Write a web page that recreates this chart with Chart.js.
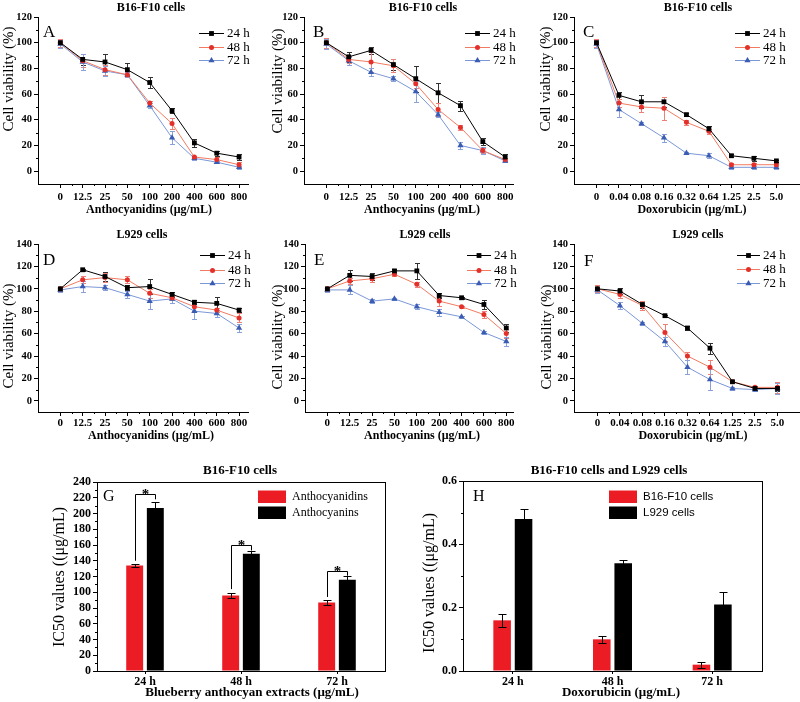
<!DOCTYPE html>
<html>
<head>
<meta charset="utf-8">
<title>Cell viability and IC50 values</title>
<script src="https://cdn.jsdelivr.net/npm/chart.js@4.4.1/dist/chart.umd.min.js"></script>
<style>
  html, body { margin: 0; padding: 0; background: #fff; }
  #figure { position: relative; width: 800px; height: 702px; overflow: hidden; background: #fff; }
  #figure canvas { position: absolute; }
</style>
</head>
<body>
<div id="figure">
  <canvas id="panelA" width="265" height="220" style="left:0;top:0"></canvas>
  <canvas id="panelB" width="265" height="220" style="left:265px;top:0"></canvas>
  <canvas id="panelC" width="280" height="220" style="left:530px;top:0"></canvas>
  <canvas id="panelD" width="265" height="230" style="left:0;top:220px"></canvas>
  <canvas id="panelE" width="265" height="230" style="left:265px;top:220px"></canvas>
  <canvas id="panelF" width="280" height="230" style="left:530px;top:220px"></canvas>
  <canvas id="panelG" width="400" height="242" style="left:0;top:460px"></canvas>
  <canvas id="panelH" width="400" height="242" style="left:400px;top:460px"></canvas>
</div>
<script>
const SERIF = "'Liberation Serif', 'Times New Roman', serif";
const SANS = "'Liberation Sans', Arial, sans-serif";

// dose categories
const anthDoses = ["0", "12.5", "25", "50", "100", "200", "400", "600", "800"];
const doxDoses = ["0", "0.04", "0.08", "0.16", "0.32", "0.64", "1.25", "2.5", "5.0"];
const hours = ["24 h", "48 h", "72 h"];

// labelled y ticks
const b16Ticks = [0, 20, 40, 60, 80, 100, 120];
const l929Ticks = [0, 20, 40, 60, 80, 100, 120, 140];
const gTicks = [0, 20, 40, 60, 80, 100, 120, 140, 160, 180, 200, 220, 240];
const hTicks = [0, 0.2, 0.4, 0.6];

// A - B16-F10, anthocyanidins
const A_24 = [100, 87, 85, 79, 69, 47, 22, 14, 11];
const A_48 = [100, 86, 79, 75, 53, 37, 11, 9, 5];
const A_72 = [99, 85, 78, 75, 51, 26, 10, 7, 3];
const A_24_err = [3, 4, 6, 5, 4, 2, 3, 2, 2];
const A_48_err = [3, 5, 4, 2, 2, 4, 1, 2, 2];
const A_72_err = [3, 6, 4, 2, 2, 5, 1, 1, 1];

// B - B16-F10, anthocyanins
const B_24 = [100, 89, 94, 83, 72, 61, 51, 23, 11];
const B_48 = [100, 87, 85, 82, 68, 48, 34, 16, 9];
const B_72 = [99, 86, 77, 72, 62, 44, 20, 16, 8];
const B_24_err = [4, 4, 3, 4, 10, 8, 4, 3, 2];
const B_48_err = [4, 3, 8, 5, 3, 5, 2, 2, 1];
const B_72_err = [4, 3, 3, 2, 8, 2, 3, 3, 1];

// C - B16-F10, doxorubicin
const C_24 = [100, 59, 54, 54, 44, 33, 12, 10, 8];
const C_48 = [100, 53, 50, 49, 38, 31, 5, 5, 5];
const C_72 = [99, 48, 37, 26, 14, 12, 3, 3, 3];
const C_24_err = [3, 3, 5, 4, 1, 2, 1, 2, 1];
const C_48_err = [3, 3, 4, 9, 2, 2, 1, 1, 1];
const C_72_err = [3, 6, 1, 3, 1, 2, 1, 1, 1];

// D - L929, anthocyanidins
const D_24 = [100, 117, 111, 101, 102, 95, 88, 87, 81];
const D_48 = [100, 108, 110, 108, 96, 92, 84, 81, 74];
const D_72 = [99, 102, 101, 95, 89, 91, 80, 78, 65];
const D_24_err = [2, 1, 4, 2, 7, 2, 2, 6, 2];
const D_48_err = [2, 3, 4, 3, 4, 2, 4, 2, 4];
const D_72_err = [2, 5, 2, 3, 7, 4, 7, 3, 4];

// E - L929, anthocyanins
const E_24 = [100, 112, 111, 116, 116, 94, 92, 86, 65];
const E_48 = [100, 107, 109, 113, 104, 89, 84, 77, 60];
const E_72 = [99, 99, 89, 91, 84, 79, 75, 61, 53];
const E_24_err = [2, 5, 3, 2, 7, 2, 1, 4, 4];
const E_48_err = [2, 3, 3, 2, 2, 4, 1, 3, 4];
const E_72_err = [2, 4, 2, 1, 2, 3, 1, 1, 4];

// F - L929, doxorubicin
const F_24 = [100, 98, 86, 76, 65, 47, 17, 11, 11];
const F_48 = [100, 95, 85, 61, 40, 30, 17, 12, 12];
const F_72 = [99, 85, 69, 53, 30, 19, 11, 10, 11];
const F_24_err = [3, 3, 3, 1, 2, 5, 1, 1, 2];
const F_48_err = [3, 3, 4, 8, 4, 6, 1, 1, 5];
const F_72_err = [3, 3, 1, 4, 6, 9, 1, 1, 5];

// G - IC50 of blueberry extracts on B16-F10
const G_anthocyanidins = [134, 96, 87];
const G_anthocyanins = [207, 149, 116];
const G_anthocyanidins_err = [2.3, 3, 3];
const G_anthocyanins_err = [7, 3, 5];
const G_sigTop = [225, 160, 127];
const G_sigLeftFoot = [140, 104, 94];
const G_sigRightFoot = [218, 153, 121];

// H - IC50 of doxorubicin
const H_b16 = [0.16, 0.10, 0.02];
const H_l929 = [0.48, 0.34, 0.21];
const H_b16_err = [0.02, 0.012, 0.01];
const H_l929_err = [0.03, 0.01, 0.04];

const SERIES = [
    { label: "24 h", line: "#000000", mark: "#000000", err: "#333333", style: "rect", r: 3.4 },
    { label: "48 h", line: "#f27a60", mark: "#e3302a", err: "#ef8078", style: "circle", r: 2.5 },
    { label: "72 h", line: "#7a97d8", mark: "#3a5cb2", err: "#8aa2dc", style: "triangle", r: 3.6 },
];

// ---------- small plugins ----------
const drawMark = (ctx, style, x, y, r) => {
    ctx.beginPath();
    if (style === "rect") {
        const s = r * Math.SQRT1_2;
        ctx.rect(x - s, y - s, 2 * s, 2 * s);
    } else if (style === "triangle") {
        ctx.moveTo(x, y - r);
        ctx.lineTo(x + r * 0.866, y + r * 0.5);
        ctx.lineTo(x - r * 0.866, y + r * 0.5);
        ctx.closePath();
    } else {
        ctx.arc(x, y, r, 0, Math.PI * 2);
    }
    ctx.fill();
};

const errorBars = (layer, cap) => ({
    id: "errorBars",
    [layer === "below" ? "beforeDatasetsDraw" : "afterDatasetsDraw"](chart) {
        const ctx = chart.ctx;
        chart.data.datasets.forEach((ds, i) => {
            if (!ds.errors) return;
            const meta = chart.getDatasetMeta(i);
            const ys = chart.scales[meta.yAxisID];
            ctx.save();
            ctx.strokeStyle = ds.errorColor || "#000";
            ctx.lineWidth = 1;
            ctx.beginPath();
            meta.data.forEach((pt, j) => {
                const raw = ds.data[j];
                const v = typeof raw === "object" ? raw.y : raw;
                const e = ds.errors[j];
                const x = Math.round(pt.x) + 0.5;
                const hi = Math.round(ys.getPixelForValue(v + e)) + 0.5;
                const lo = Math.round(ys.getPixelForValue(v - e)) + 0.5;
                ctx.moveTo(x, lo); ctx.lineTo(x, hi);
                ctx.moveTo(x - cap, hi); ctx.lineTo(x + cap, hi);
                ctx.moveTo(x - cap, lo); ctx.lineTo(x + cap, lo);
            });
            ctx.stroke();
            ctx.restore();
        });
    }
});

// short ticks half way between the labelled ones
const minorTicks = (axes) => ({
    id: "minorTicks",
    afterDraw(chart) {
        const ctx = chart.ctx;
        ctx.save();
        ctx.strokeStyle = "#000";
        ctx.lineWidth = 1;
        ctx.beginPath();
        axes.forEach(id => {
            const s = chart.scales[id];
            for (let k = 0; k < s.ticks.length - 1; k++) {
                const p = Math.round((s.getPixelForValue(s.ticks[k].value) + s.getPixelForValue(s.ticks[k + 1].value)) / 2) + 0.5;
                if (id === "x") { ctx.moveTo(p, s.top); ctx.lineTo(p, s.top + 2); }
                else { ctx.moveTo(s.right - 2, p); ctx.lineTo(s.right, p); }
            }
        });
        ctx.stroke();
        ctx.restore();
    }
});

const frame = {
    id: "frame",
    afterDraw(chart) {
        const a = chart.chartArea, ctx = chart.ctx;
        ctx.save();
        ctx.strokeStyle = "#000";
        ctx.lineWidth = 1;
        ctx.strokeRect(Math.round(a.left) + 0.5, Math.round(a.top) + 0.5,
            Math.round(a.right - a.left), Math.round(a.bottom - a.top));
        ctx.restore();
    }
};

const panelText = (p) => ({
    id: "panelText",
    afterDraw(chart) {
        const ctx = chart.ctx;
        ctx.save();
        ctx.fillStyle = "#000";
        ctx.textAlign = "center";
        ctx.textBaseline = "middle";
        ctx.font = p.titleFont;
        ctx.fillText(p.title, p.titleAt[0], p.titleAt[1]);
        ctx.font = p.xTitleFont;
        ctx.fillText(p.xTitle, p.xTitleAt[0], p.xTitleAt[1]);
        ctx.save();
        ctx.translate(p.yTitleAt[0], p.yTitleAt[1]);
        ctx.rotate(-Math.PI / 2);
        ctx.font = p.yTitleFont;
        ctx.fillText(p.yTitle, 0, 0);
        ctx.restore();
        ctx.textAlign = "left";
        ctx.textBaseline = "alphabetic";
        ctx.font = p.letterFont;
        ctx.fillText(p.letter, p.letterAt[0], p.letterAt[1]);
        ctx.restore();
    }
});

const lineLegend = (lg) => ({
    id: "lineLegend",
    afterDraw(chart) {
        const ctx = chart.ctx;
        ctx.save();
        chart.data.datasets.forEach((ds, k) => {
            const y = Math.round(lg.rows[k]) + 0.5;
            ctx.strokeStyle = ds.borderColor;
            ctx.lineWidth = 1;
            ctx.beginPath();
            ctx.moveTo(lg.x1, y); ctx.lineTo(lg.x2, y);
            ctx.stroke();
            ctx.fillStyle = ds.pointBackgroundColor;
            drawMark(ctx, ds.pointStyle, (lg.x1 + lg.x2) / 2, y, ds.pointRadius);
            ctx.fillStyle = "#000";
            ctx.font = `13px ${SERIF}`;
            ctx.textAlign = "left";
            ctx.textBaseline = "middle";
            ctx.fillText(ds.label, lg.tx, y + 0.5);
        });
        ctx.restore();
    }
});

const barLegend = (lg) => ({
    id: "barLegend",
    afterDraw(chart) {
        const ctx = chart.ctx;
        ctx.save();
        chart.data.datasets.forEach((ds, k) => {
            ctx.fillStyle = ds.backgroundColor;
            ctx.fillRect(lg.x, lg.rows[k], lg.w, lg.h);
            ctx.fillStyle = "#000";
            ctx.font = lg.font;
            ctx.textAlign = "left";
            ctx.textBaseline = "middle";
            ctx.fillText(ds.label, lg.tx, lg.rows[k] + lg.h / 2 + 0.5);
        });
        ctx.restore();
    }
});

const sigBrackets = (tops, leftFeet, rightFeet) => ({
    id: "sigBrackets",
    afterDatasetsDraw(chart) {
        const ctx = chart.ctx, ys = chart.scales.y;
        const m0 = chart.getDatasetMeta(0), m1 = chart.getDatasetMeta(1);
        ctx.save();
        ctx.strokeStyle = "#000";
        ctx.fillStyle = "#000";
        ctx.lineWidth = 1;
        ctx.font = `bold 15px ${SERIF}`;
        ctx.textAlign = "center";
        ctx.textBaseline = "alphabetic";
        tops.forEach((t, j) => {
            const xl = Math.round(m0.data[j].x) + 0.5;
            const xr = Math.round(m1.data[j].x) + 0.5;
            const yt = Math.round(ys.getPixelForValue(t)) + 0.5;
            ctx.beginPath();
            ctx.moveTo(xl, ys.getPixelForValue(leftFeet[j]));
            ctx.lineTo(xl, yt);
            ctx.lineTo(xr, yt);
            ctx.lineTo(xr, ys.getPixelForValue(rightFeet[j]));
            ctx.stroke();
            ctx.fillText("*", (xl + xr) / 2, yt + 4);
        });
        ctx.restore();
    }
});

// ---------- panels ----------
const tickFont = (size) => ({ family: SERIF, size, weight: "bold" });

function linePanel(id, p) {
    const el = document.getElementById(id);
    const W = el.width, H = el.height;
    new Chart(el, {
        type: "line",
        data: {
            datasets: SERIES.map((s, k) => ({
                label: s.label,
                data: p.values[k].map((v, i) => ({ x: i, y: v })),
                errors: p.errors[k],
                errorColor: s.err,
                borderColor: s.line,
                borderWidth: 1,
                tension: 0,
                fill: false,
                pointStyle: s.style,
                pointRadius: s.r,
                pointBackgroundColor: s.mark,
                pointBorderColor: s.mark,
                pointBorderWidth: 0,
            }))
        },
        options: {
            responsive: false, animation: false, events: [],
            layout: { padding: { left: 0, top: p.area.t, right: W - p.area.r, bottom: 0 } },
            plugins: { legend: { display: false }, tooltip: { enabled: false } },
            scales: {
                x: {
                    type: "linear", min: p.xRange[0], max: p.xRange[1],
                    afterBuildTicks: s => { s.ticks = p.labels.map((_, i) => ({ value: i })); },
                    afterFit: s => { s.height = H - p.area.b; },
                    ticks: { callback: v => p.labels[v], font: tickFont(11), color: "#000", padding: p.xPad, autoSkip: false, maxRotation: 0, minRotation: 0 },
                    grid: { drawOnChartArea: false, tickLength: 4, color: "#000" },
                    border: { color: "#000" }
                },
                y: {
                    min: p.yRange[0], max: p.yRange[1],
                    afterBuildTicks: s => { s.ticks = p.yTicks.map(v => ({ value: v })); },
                    afterFit: s => { s.width = p.area.l; },
                    ticks: { font: tickFont(10.5), color: "#000", padding: 2, autoSkip: false },
                    grid: { drawOnChartArea: false, tickLength: 4, color: "#000" },
                    border: { color: "#000" }
                }
            }
        },
        plugins: [errorBars("below", 2.5), minorTicks(["x", "y"]), lineLegend(p.legend), panelText(p)]
    });
}

function barPanel(id, p) {
    const el = document.getElementById(id);
    const W = el.width, H = el.height;
    new Chart(el, {
        type: "bar",
        data: {
            labels: hours,
            datasets: p.series.map(s => ({
                label: s.label,
                data: s.data,
                errors: s.err,
                errorColor: "#000",
                backgroundColor: s.color,
                borderWidth: 0,
                categoryPercentage: 0.43,
                barPercentage: 0.82,
            }))
        },
        options: {
            responsive: false, animation: false, events: [],
            layout: { padding: { left: 0, top: p.area.t, right: W - p.area.r, bottom: 0 } },
            plugins: { legend: { display: false }, tooltip: { enabled: false } },
            scales: {
                x: {
                    afterFit: s => { s.height = H - p.area.b; },
                    ticks: { font: tickFont(12), color: "#000", padding: 1, maxRotation: 0 },
                    grid: { offset: false, drawOnChartArea: false, tickLength: 3, color: "#000" },
                    border: { color: "#000" }
                },
                y: {
                    min: 0, max: p.yMax,
                    afterBuildTicks: s => { s.ticks = p.yTicks.map(v => ({ value: v })); },
                    afterFit: s => { s.width = p.area.l; },
                    ticks: { callback: p.yFmt, font: tickFont(12), color: "#000", padding: 2, autoSkip: false },
                    grid: { drawOnChartArea: false, tickLength: 4, color: "#000" },
                    border: { color: "#000" }
                }
            }
        },
        plugins: [frame, errorBars("above", 4), minorTicks(["y"]), barLegend(p.legend), panelText(p)].concat(p.extra || [])
    });
}

const viabilityText = {
    titleFont: `bold 12px ${SERIF}`,
    xTitleFont: `bold 12px ${SERIF}`,
    yTitle: "Cell viability (%)",
    yTitleFont: `15px ${SERIF}`,
    letterFont: `17px ${SERIF}`,
};

linePanel("panelA", Object.assign({}, viabilityText, {
    labels: anthDoses, values: [A_24, A_48, A_72], errors: [A_24_err, A_48_err, A_72_err],
    area: { l: 38, t: 17, r: 248, b: 184 }, xRange: [-1, 8.4], yRange: [-10, 120], yTicks: b16Ticks, xPad: 3,
    title: "B16-F10 cells", titleAt: [151, 8], letter: "A", letterAt: [43, 37],
    yTitleAt: [9, 79], xTitle: "Anthocyanidins (μg/mL)", xTitleAt: [149, 210],
    legend: { x1: 199, x2: 224, tx: 227, rows: [33, 46.5, 60] }
}));

linePanel("panelB", Object.assign({}, viabilityText, {
    labels: anthDoses, values: [B_24, B_48, B_72], errors: [B_24_err, B_48_err, B_72_err],
    area: { l: 39, t: 17, r: 248, b: 184 }, xRange: [-1, 8.35], yRange: [-10, 120], yTicks: b16Ticks, xPad: 3,
    title: "B16-F10 cells", titleAt: [158, 8], letter: "B", letterAt: [48, 37],
    yTitleAt: [13.5, 81], xTitle: "Anthocyanins (μg/mL)", xTitleAt: [157, 210],
    legend: { x1: 200, x2: 225, tx: 228, rows: [33, 46.5, 60] }
}));

linePanel("panelC", Object.assign({}, viabilityText, {
    labels: doxDoses, values: [C_24, C_48, C_72], errors: [C_24_err, C_48_err, C_72_err],
    area: { l: 44, t: 17, r: 270, b: 184 }, xRange: [-1, 9.05], yRange: [-10, 120], yTicks: b16Ticks, xPad: 3,
    title: "B16-F10 cells", titleAt: [168, 8], letter: "C", letterAt: [53, 37],
    yTitleAt: [16.5, 79], xTitle: "Doxorubicin (μg/mL)", xTitleAt: [162, 210],
    legend: { x1: 205, x2: 230, tx: 233, rows: [33, 46.5, 60] }
}));

linePanel("panelD", Object.assign({}, viabilityText, {
    labels: anthDoses, values: [D_24, D_48, D_72], errors: [D_24_err, D_48_err, D_72_err],
    area: { l: 38, t: 24, r: 248, b: 192 }, xRange: [-1, 8.4], yRange: [-10, 140], yTicks: l929Ticks, xPad: 1,
    title: "L929 cells", titleAt: [142, 15], letter: "D", letterAt: [43, 45],
    yTitleAt: [9, 116], xTitle: "Anthocyanidins (μg/mL)", xTitleAt: [151, 216],
    legend: { x1: 200, x2: 225, tx: 228, rows: [35, 49.5, 63] }
}));

linePanel("panelE", Object.assign({}, viabilityText, {
    labels: anthDoses, values: [E_24, E_48, E_72], errors: [E_24_err, E_48_err, E_72_err],
    area: { l: 40, t: 24, r: 248, b: 192 }, xRange: [-1, 8.3], yRange: [-10, 140], yTicks: l929Ticks, xPad: 1,
    title: "L929 cells", titleAt: [160, 15], letter: "E", letterAt: [49, 45],
    yTitleAt: [13.5, 117], xTitle: "Anthocyanins (μg/mL)", xTitleAt: [157, 216],
    legend: { x1: 202, x2: 226, tx: 229, rows: [35, 49.5, 63] }
}));

linePanel("panelF", Object.assign({}, viabilityText, {
    labels: doxDoses, values: [F_24, F_48, F_72], errors: [F_24_err, F_48_err, F_72_err],
    area: { l: 44, t: 24, r: 270, b: 192 }, xRange: [-1.04, 9.0], yRange: [-10, 140], yTicks: l929Ticks, xPad: 1,
    title: "L929 cells", titleAt: [168, 15], letter: "F", letterAt: [54, 46],
    yTitleAt: [17.5, 117], xTitle: "Doxorubicin (μg/mL)", xTitleAt: [163, 216],
    legend: { x1: 207, x2: 230, tx: 233, rows: [35, 48.5, 62.5] }
}));

barPanel("panelG", {
    series: [
        { label: "Anthocyanidins", data: G_anthocyanidins, err: G_anthocyanidins_err, color: "#ec1c24" },
        { label: "Anthocyanins", data: G_anthocyanins, err: G_anthocyanins_err, color: "#000000" },
    ],
    area: { l: 97, t: 22, r: 385, b: 211 }, yMax: 240, yTicks: gTicks, yFmt: v => v,
    title: "B16-F10 cells", titleFont: `bold 13px ${SERIF}`, titleAt: [240, 11],
    letter: "G", letterFont: `16px ${SERIF}`, letterAt: [103, 41],
    yTitle: "IC50 values ((μg/mL)", yTitleFont: `16px ${SERIF}`, yTitleAt: [60, 117],
    xTitle: "Blueberry anthocyan extracts (μg/mL)", xTitleFont: `bold 13px ${SERIF}`, xTitleAt: [252, 233],
    legend: { x: 258, w: 28, h: 12.5, rows: [30.5, 46.5], tx: 292, font: `12px ${SERIF}` },
    extra: [sigBrackets(G_sigTop, G_sigLeftFoot, G_sigRightFoot)]
});

barPanel("panelH", {
    series: [
        { label: "B16-F10 cells", data: H_b16, err: H_b16_err, color: "#ec1c24" },
        { label: "L929 cells", data: H_l929, err: H_l929_err, color: "#000000" },
    ],
    area: { l: 63, t: 21, r: 362, b: 211 }, yMax: 0.6, yTicks: hTicks, yFmt: v => v.toFixed(1),
    title: "B16-F10 cells and L929 cells", titleFont: `bold 13px ${SERIF}`, titleAt: [209, 11],
    letter: "H", letterFont: `16px ${SERIF}`, letterAt: [73, 41],
    yTitle: "IC50 values ((μg/mL)", yTitleFont: `16px ${SERIF}`, yTitleAt: [30, 123],
    xTitle: "Doxorubicin (μg/mL)", xTitleFont: `bold 13px ${SERIF}`, xTitleAt: [221, 233],
    legend: { x: 209, w: 28, h: 12.5, rows: [30.5, 46.5], tx: 243, font: `11.5px ${SANS}` }
});
</script>
</body>
</html>
